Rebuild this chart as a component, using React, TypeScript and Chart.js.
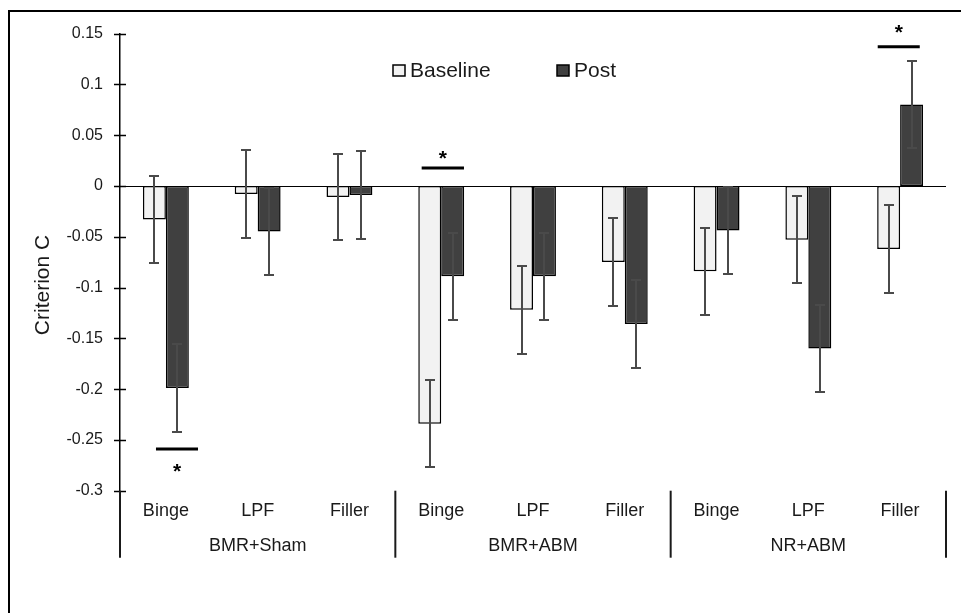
import React, { useEffect, useRef } from "react";
import { Chart, registerables } from "chart.js";

Chart.register(...registerables);

// ---- data ----
const categories = ["Binge", "LPF", "Filler", "Binge", "LPF", "Filler", "Binge", "LPF", "Filler"];
const groups = ["BMR+Sham", "BMR+ABM", "NR+ABM"];
const seriesNames = ["Baseline", "Post"];
const baselineValues = [-0.033, -0.008, -0.011, -0.234, -0.122, -0.075, -0.084, -0.053, -0.062];
const postValues = [-0.199, -0.045, -0.009, -0.089, -0.089, -0.136, -0.044, -0.160, 0.080];
const baselineErrors = [0.043, 0.043, 0.042, 0.043, 0.043, 0.043, 0.043, 0.043, 0.043];
const postErrors = [0.043, 0.043, 0.043, 0.043, 0.043, 0.043, 0.043, 0.043, 0.043];
const yTickLabels = ["0.15", "0.1", "0.05", "0", "-0.05", "-0.1", "-0.15", "-0.2", "-0.25", "-0.3"];
const yMin = -0.3;
const yMax = 0.15;
const yStep = 0.05;
const yTitle = "Criterion C";
// significance markers (x in category units, y in data units)
const sigXStart = [-0.108, 2.787, 7.756];
const sigXEnd = [0.35, 3.248, 8.214];
const sigLineY = [-0.259, 0.0175, 0.137];
const sigStarY = [-0.2766, 0.0315, 0.155];
const sigLabel = "*";

const FONT = "'Liberation Sans', Arial, sans-serif";
const BASE_FILL = "#f2f2f2";
const POST_FILL = "#404040";

const decorPlugin = {
  id: "decor",
  beforeDraw(chart: any) {
    const ctx = chart.ctx;
    ctx.save();
    ctx.fillStyle = "#ffffff";
    ctx.fillRect(0, 0, chart.width, chart.height);
    // outer frame (left + top)
    ctx.strokeStyle = "#000";
    ctx.lineWidth = 2;
    ctx.beginPath();
    ctx.moveTo(9, chart.height);
    ctx.lineTo(9, 11);
    ctx.lineTo(chart.width, 11);
    ctx.stroke();
    ctx.restore();
  },
  beforeDatasetsDraw(chart: any) {
    const ctx = chart.ctx;
    const y = chart.scales.y;
    const area = chart.chartArea;
    ctx.save();
    ctx.strokeStyle = "#000";
    ctx.lineWidth = 1;
    const zy = Math.round(y.getPixelForValue(0)) + 0.5;
    ctx.beginPath();
    ctx.moveTo(area.left, zy);
    ctx.lineTo(area.right, zy);
    ctx.stroke();
    ctx.restore();
  },
  afterDatasetsDraw(chart: any) {
    const ctx = chart.ctx;
    const y = chart.scales.y;
    const x = chart.scales.x;
    const errs = [baselineErrors, postErrors];
    ctx.save();
    ctx.strokeStyle = "#4a4a4a";
    ctx.lineWidth = 2;
    chart.data.datasets.forEach((ds: any, di: number) => {
      const meta = chart.getDatasetMeta(di);
      meta.data.forEach((bar: any, i: number) => {
        const v = ds.data[i];
        const e = errs[di][i];
        const cx = Math.round(bar.x);
        const top = Math.round(y.getPixelForValue(v + e));
        const bot = Math.round(y.getPixelForValue(v - e));
        ctx.beginPath();
        ctx.moveTo(cx, top);
        ctx.lineTo(cx, bot);
        ctx.moveTo(cx - 5, top);
        ctx.lineTo(cx + 5, top);
        ctx.moveTo(cx - 5, bot);
        ctx.lineTo(cx + 5, bot);
        ctx.stroke();
      });
    });
    ctx.restore();

    // significance markers
    ctx.save();
    ctx.strokeStyle = "#000";
    ctx.lineWidth = 3;
    ctx.fillStyle = "#000";
    ctx.font = `bold 21px ${FONT}`;
    ctx.textAlign = "center";
    ctx.textBaseline = "alphabetic";
    sigLineY.forEach((ly, k) => {
      const x0 = x.getPixelForValue(sigXStart[k]);
      const x1 = x.getPixelForValue(sigXEnd[k]);
      const py = y.getPixelForValue(ly);
      ctx.beginPath();
      ctx.moveTo(x0, py);
      ctx.lineTo(x1, py);
      ctx.stroke();
      ctx.fillText(sigLabel, (x0 + x1) / 2, y.getPixelForValue(sigStarY[k]) + 11);
    });
    ctx.restore();
  },
  afterDraw(chart: any) {
    const ctx = chart.ctx;
    const y = chart.scales.y;
    const x = chart.scales.x;
    const area = chart.chartArea;
    ctx.save();
    // y axis tick marks crossing the axis
    ctx.strokeStyle = "#000";
    ctx.lineWidth = 1.5;
    y.ticks.forEach((t: any) => {
      const py = Math.round(y.getPixelForValue(t.value)) + 0.5;
      ctx.beginPath();
      ctx.moveTo(area.left - 6, py);
      ctx.lineTo(area.left + 6, py);
      ctx.stroke();
    });
    // group separators
    ctx.strokeStyle = "#1a1a1a";
    ctx.lineWidth = 2;
    for (let g = 0; g <= groups.length; g++) {
      const px = x.getPixelForValue(g * 3 - 0.5);
      ctx.beginPath();
      ctx.moveTo(px, area.bottom);
      ctx.lineTo(px, area.bottom + 67);
      ctx.stroke();
    }
    // group labels
    ctx.fillStyle = "#1a1a1a";
    ctx.font = `18px ${FONT}`;
    ctx.textAlign = "center";
    ctx.textBaseline = "middle";
    groups.forEach((g, gi) => {
      ctx.fillText(g, x.getPixelForValue(gi * 3 + 1), area.bottom + 55);
    });
    // y title
    ctx.save();
    ctx.translate(43, 285);
    ctx.rotate(-Math.PI / 2);
    ctx.font = `21px ${FONT}`;
    ctx.fillStyle = "#1a1a1a";
    ctx.textAlign = "center";
    ctx.textBaseline = "middle";
    ctx.fillText(yTitle, 0, 0);
    ctx.restore();
    // legend
    const fills = [BASE_FILL, POST_FILL];
    const boxX = [393, 557];
    ctx.font = `21px ${FONT}`;
    ctx.textAlign = "left";
    ctx.textBaseline = "alphabetic";
    seriesNames.forEach((name, i) => {
      ctx.fillStyle = fills[i];
      ctx.fillRect(boxX[i], 65, 12, 11);
      ctx.strokeStyle = "#000";
      ctx.lineWidth = 1.5;
      ctx.strokeRect(boxX[i], 65, 12, 11);
      ctx.fillStyle = "#1a1a1a";
      ctx.fillText(name, boxX[i] + 17, 77);
    });
    ctx.restore();
  },
};

export default function App() {
  const ref = useRef<HTMLCanvasElement | null>(null);
  useEffect(() => {
    if (!ref.current) return;
    const chart = new Chart(ref.current, {
      type: "bar",
      data: {
        labels: categories,
        datasets: [
          {
            label: seriesNames[0],
            data: baselineValues,
            backgroundColor: BASE_FILL,
            borderColor: "#000",
            borderWidth: 1.5,
            borderSkipped: false,
            categoryPercentage: 0.5,
            barPercentage: 1.0,
          },
          {
            label: seriesNames[1],
            data: postValues,
            backgroundColor: POST_FILL,
            borderColor: "#000",
            borderWidth: 1.5,
            borderSkipped: false,
            categoryPercentage: 0.5,
            barPercentage: 1.0,
          },
        ],
      },
      options: {
        responsive: false,
        animation: false,
        devicePixelRatio: 1,
        layout: { padding: { top: 33.5, right: 15, bottom: 90.3, left: 0 } },
        plugins: {
          legend: { display: false },
          tooltip: { enabled: false },
          title: { display: false },
        },
        scales: {
          x: {
            grid: { display: false, drawTicks: false },
            border: { display: false },
            ticks: {
              color: "#1a1a1a",
              font: { family: FONT, size: 18 },
              padding: 10,
              maxRotation: 0,
              autoSkip: false,
            },
            afterFit: (s: any) => {
              s.height = 32;
            },
          },
          y: {
            min: yMin,
            max: yMax,
            grid: { display: false, drawTicks: false },
            border: { display: true, color: "#000", width: 1.5 },
            ticks: {
              stepSize: yStep,
              color: "#1a1a1a",
              font: { family: FONT, size: 16 },
              padding: 17,
              callback: (value: any) => {
                const idx = Math.round((yMax - Number(value)) / yStep);
                return yTickLabels[idx] ?? "";
              },
            },
            afterFit: (s: any) => {
              s.width = 120;
            },
          },
        },
      },
      plugins: [decorPlugin],
    });
    return () => chart.destroy();
  }, []);
  return (
    <div style={{ position: "fixed", left: 0, top: 0, width: 961, height: 613, background: "#fff" }}>
      <canvas ref={ref} width={961} height={613} style={{ width: 961, height: 613, display: "block" }} />
    </div>
  );
}
